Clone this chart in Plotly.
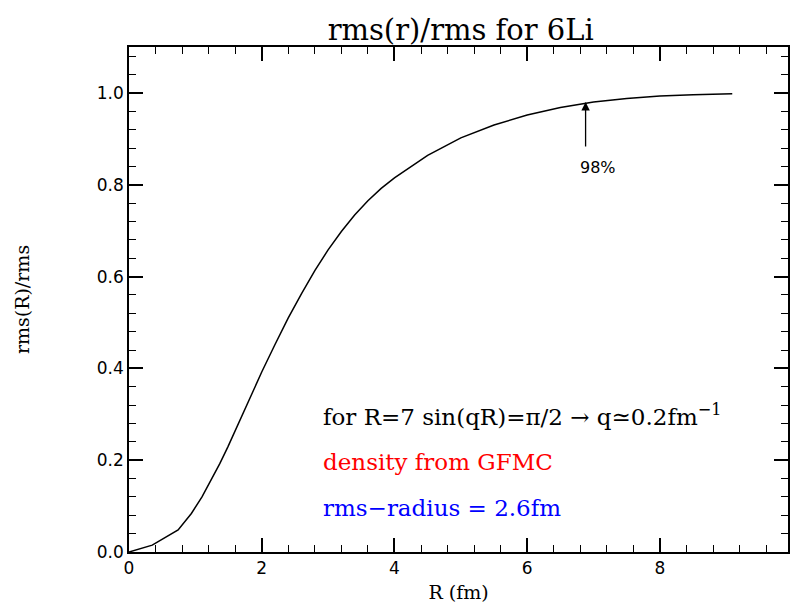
import plotly.graph_objects as go

R = [0.0, 0.35, 0.74, 0.94, 1.10, 1.24, 1.37, 1.49, 1.605, 1.715, 1.8, 2.0, 2.2, 2.4, 2.6,
     2.8, 3.0, 3.2, 3.4, 3.6, 3.8, 4.0, 4.5, 5.0, 5.5, 6.0, 6.5, 7.0, 7.5, 8.0, 8.5, 9.09]
ratio = [0.0, 0.015, 0.048, 0.084, 0.120, 0.157, 0.193, 0.229, 0.266, 0.302, 0.330, 0.392,
         0.452, 0.510, 0.563, 0.613, 0.658, 0.698, 0.734, 0.765, 0.792, 0.815, 0.864, 0.902,
         0.930, 0.952, 0.968, 0.980, 0.988, 0.993, 0.996, 0.998]

arrow_x = 6.88
arrow_tip = 0.98
arrow_tail = 0.88
label_98 = "98%"

notes = ["for R=7 sin(qR)=π/2 → q≃0.2fm<sup>−1</sup>", "density from GFMC", "rms−radius = 2.6fm"]
note_colors = ["black", "red", "blue"]
note_y = [0.298, 0.196, 0.096]
note_x = 2.89

fig = go.Figure()
fig.add_trace(go.Scatter(x=R, y=ratio, mode="lines",
                         line=dict(color="black", width=1.5), showlegend=False))

axis_common = dict(showgrid=False, zeroline=False, showline=True, linecolor="black",
                   linewidth=1.5, mirror="ticks", ticks="inside", ticklen=14,
                   tickwidth=1.5, tickcolor="black",
                   tickfont=dict(family="DejaVu Sans", size=17, color="black"))

fig.update_xaxes(range=[0, 9.93], dtick=2, tick0=0, tickformat="d",
                 minor=dict(dtick=0.4, ticklen=7, ticks="inside", tickwidth=1.2, tickcolor="black"),
                 title=dict(text="R (fm)", font=dict(family="DejaVu Serif", size=19, color="black"), standoff=9),
                 **axis_common)
fig.update_yaxes(range=[0, 1.1], dtick=0.2, tick0=0, tickformat=".1f",
                 minor=dict(dtick=0.04, ticklen=7, ticks="inside", tickwidth=1.2, tickcolor="black"),
                 title=dict(text="rms(R)/rms", font=dict(family="DejaVu Serif", size=19, color="black"), standoff=62),
                 **axis_common)

fig.add_annotation(x=arrow_x, y=arrow_tip, ax=arrow_x, ay=arrow_tail, xref="x", yref="y",
                   axref="x", ayref="y", text="", showarrow=True, arrowhead=2,
                   arrowsize=1.3, arrowwidth=1.3, arrowcolor="black")
fig.add_annotation(x=7.06, y=0.837, xref="x", yref="y", text=label_98, showarrow=False,
                   font=dict(family="DejaVu Sans", size=16, color="black"))

for t, c, y in zip(notes, note_colors, note_y):
    fig.add_annotation(x=note_x, y=y, xref="x", yref="y", text=t, showarrow=False,
                       xanchor="left", yanchor="middle",
                       font=dict(family="DejaVu Serif", size=23, color=c))

fig.update_layout(
    width=791, height=603,
    margin=dict(l=129, r=1, t=47, b=51),
    paper_bgcolor="white", plot_bgcolor="white",
    title=dict(text="rms(r)/rms for 6Li", x=0.5825, xanchor="center", y=0.95, yanchor="middle",
               font=dict(family="DejaVu Serif", size=29, color="black")),
)

fig.write_html("out.html")
